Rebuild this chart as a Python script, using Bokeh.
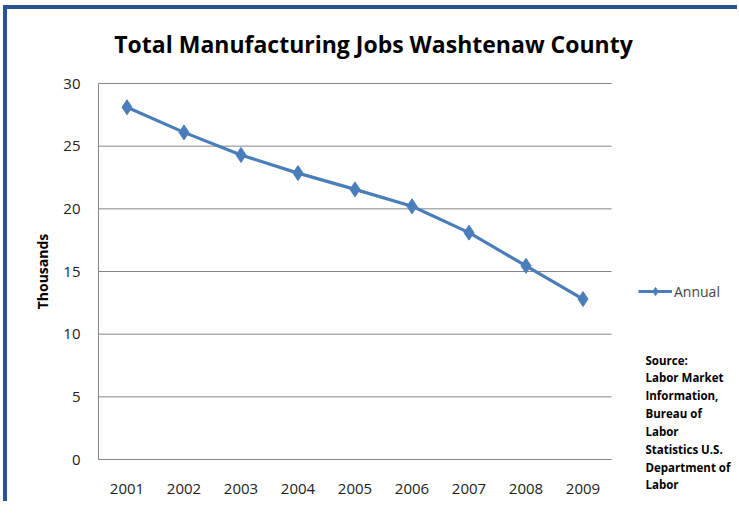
import math
from bokeh.plotting import figure
from bokeh.models import Label, Legend, LegendItem, FixedTicker, Range1d
from bokeh.embed import file_html
from bokeh.resources import INLINE

years = ["2001", "2002", "2003", "2004", "2005", "2006", "2007", "2008", "2009"]
jobs_thousands = [28.1, 26.1, 24.3, 22.85, 21.55, 20.2, 18.1, 15.45, 12.8]
y_ticks = [0, 5, 10, 15, 20, 25, 30]
series_name = "Annual"
title_text = "Total Manufacturing Jobs  Washtenaw County"
y_label = "Thousands"
source_text = "Source:\nLabor Market\nInformation,\nBureau of\nLabor\nStatistics U.S.\nDepartment of\nLabor"

FONT = "Open Sans"
BLUE = "#4A7EBB"
GRID = "#868686"

# layout (pixels)
CAT_W = 57.0            # width of one category slot
PX_PER_UNIT = 376 / 30  # vertical scale
FRAME_W, FRAME_H = 730, 492
AXIS_FROM_LEFT = 91     # pixels from frame left to the value axis
ZERO_FROM_BOTTOM = 42   # pixels from frame bottom to value 0

n = len(years)
xs = [i + 0.5 for i in range(n)]
x_lo = -AXIS_FROM_LEFT / CAT_W
x_hi = (FRAME_W - AXIS_FROM_LEFT) / CAT_W
y_lo = -ZERO_FROM_BOTTOM / PX_PER_UNIT
y_hi = (FRAME_H - ZERO_FROM_BOTTOM) / PX_PER_UNIT

p = figure(x_range=Range1d(x_lo, x_hi), y_range=Range1d(y_lo, y_hi),
           frame_width=FRAME_W, frame_height=FRAME_H,
           min_border_left=0, min_border_right=0, min_border_top=0, min_border_bottom=0,
           output_backend="svg", toolbar_location=None)
p.styles = {"border-left": "4px solid #2A5590", "border-top": "4px solid #2A5590",
            "margin-left": "3px", "margin-top": "5px"}
p.outline_line_color = None
p.background_fill_color = "white"
p.border_fill_color = "white"
p.xgrid.visible = False
p.ygrid.visible = False

# horizontal gridlines across the category area only
grid_vals = [t for t in y_ticks if t > 0]
p.segment(x0=[0] * len(grid_vals), y0=grid_vals, x1=[n] * len(grid_vals), y1=grid_vals,
          line_color=GRID, line_width=1)

line = p.line(xs, jobs_thousands, line_color=BLUE, line_width=3.2)
pts = p.scatter(xs, jobs_thousands, marker="diamond", size=15, fill_color=BLUE, line_color=BLUE)

p.xaxis.fixed_location = 0
p.xaxis.bounds = (0, n)
p.xaxis.ticker = FixedTicker(ticks=xs)
p.xaxis.major_label_overrides = {x: y for x, y in zip(xs, years)}
p.yaxis.fixed_location = 0
p.yaxis.bounds = (y_ticks[0], y_ticks[-1])
p.yaxis.ticker = FixedTicker(ticks=y_ticks)
for ax in (p.xaxis, p.yaxis):
    ax.axis_line_color = GRID
    ax.major_tick_line_color = None
    ax.minor_tick_line_color = None
    ax.major_label_text_font = FONT
    ax.major_label_text_font_size = "15px"
    ax.major_label_text_color = "#222222"
p.yaxis.major_label_standoff = 12
p.xaxis.major_label_standoff = 18

p.add_layout(Label(x=35, y=230, x_units="screen", y_units="screen", text=y_label,
                   angle=math.pi / 2, text_font=FONT, text_font_style="bold",
                   text_font_size="14px", text_align="center", text_baseline="middle",
                   text_color="black"))

p.add_layout(Label(x=369, y=458, x_units="screen", y_units="screen", text=title_text,
                   text_font=FONT, text_font_style="bold", text_font_size="23px",
                   text_align="center", text_baseline="middle", text_color="black"))

legend = Legend(items=[LegendItem(label=series_name, renderers=[line, pts])],
                location=(631, 200), background_fill_alpha=0, border_line_color=None,
                label_text_font=FONT, label_text_font_size="14px", glyph_width=34,
                padding=0, margin=0, label_standoff=2)
p.add_layout(legend, "center")

p.add_layout(Label(x=638, y=149, x_units="screen", y_units="screen", text=source_text,
                   text_font=FONT, text_font_style="bold", text_font_size="11.5px",
                   text_line_height=1.19, text_align="left", text_baseline="top", text_color="black"))

open("out.html", "w").write(file_html(p, INLINE))
